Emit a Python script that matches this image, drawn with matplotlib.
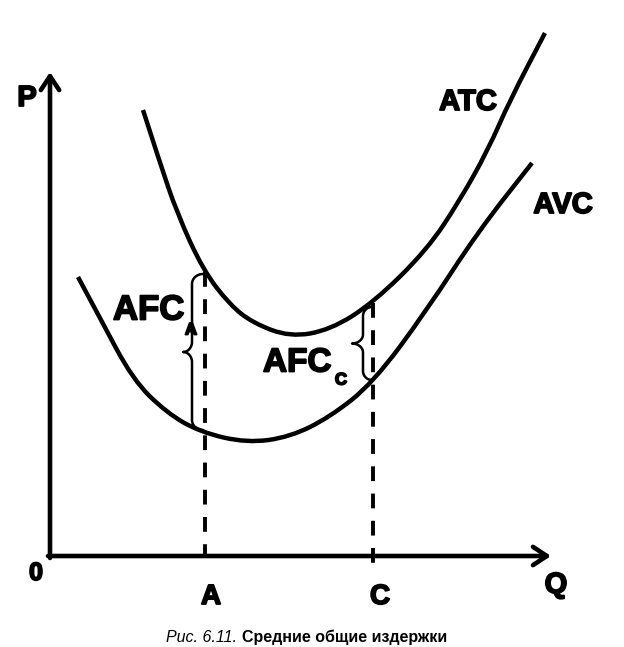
import matplotlib.pyplot as plt
import matplotlib.patheffects as pe
from matplotlib.path import Path
from matplotlib.patches import PathPatch
import numpy as np

# DATA ------------------------------------------------------
# quantity / price (origin at the axes corner)
atc_q = [93, 110, 127, 153, 180, 203, 240, 280, 323, 377, 410, 438, 460, 495]
atc_p = [446, 393, 343, 286, 251, 233, 219, 226, 253, 306, 356, 406, 456, 523]

avc_q = [28, 50, 83, 117, 150, 197, 240, 280, 323, 377, 427, 482]
avc_p = [279, 238, 176, 143, 124, 113, 119, 139, 173, 246, 323, 393]

q_a, q_c = 155, 323
atc_at = {"A": 284, "C": 253}
avc_at = {"A": 124, "C": 173}

FONT = "Liberation Sans"
HEAVY = [pe.withStroke(linewidth=1.3, foreground="black")]


def smooth_curve(ax, qs, ps, lw):
    # quadratic bezier through the midpoints, read points act as controls
    pts = list(zip(qs, ps))
    verts = [pts[0]]
    codes = [Path.MOVETO]
    for i in range(1, len(pts) - 1):
        mid = ((pts[i][0] + pts[i + 1][0]) / 2, (pts[i][1] + pts[i + 1][1]) / 2)
        verts += [pts[i], mid]
        codes += [Path.CURVE3, Path.CURVE3]
    verts.append(pts[-1])
    codes.append(Path.LINETO)
    ax.add_patch(PathPatch(Path(verts, codes), fill=False, lw=lw,
                           edgecolor="black", capstyle="butt"))


def brace(ax, q, p_lo, p_hi, w_end, w_mid, r):
    # curly brace opening to the right, cusp pointing left
    p_mid = (p_lo + p_hi) / 2
    t = np.linspace(0, np.pi / 2, 20)
    a1 = np.c_[q + w_end - w_end * np.sin(t), p_hi - r + r * np.cos(t)]
    a2 = np.c_[q - w_mid + w_mid * np.cos(t), p_mid + r - r * np.sin(t)]
    a3 = np.c_[q - w_mid + w_mid * np.sin(t), p_mid - r + r * np.cos(t)][::-1]
    a3 = np.c_[q - w_mid + w_mid * np.sin(t), p_mid - r * (1 - np.cos(t))]
    a4 = np.c_[q + w_end - w_end * np.cos(t), p_lo + r - r * np.sin(t)]
    pts = np.vstack([a1, a2, a3, a4])
    ax.plot(pts[:, 0], pts[:, 1], color="black", lw=1.8, solid_capstyle="round")


fig = plt.figure(figsize=(6.24, 6.47), dpi=100)
ax = fig.add_axes([0, 0, 1, 1])
ax.set_xlim(-50, 574)
ax.set_ylim(-91, 556)
ax.axis("off")

# axes with open arrow heads
arrow = dict(arrowstyle="->,head_length=0.5,head_width=0.33", lw=3.3, color="black",
             shrinkA=0, shrinkB=0, mutation_scale=20)
ax.annotate("", xy=(0, 484), xytext=(0, -2), arrowprops=arrow)
ax.annotate("", xy=(501, 0), xytext=(-2, 0), arrowprops=arrow)

# cost curves
smooth_curve(ax, atc_q, atc_p, 3.2)
smooth_curve(ax, avc_q, avc_p, 3.2)

# dashed drop lines
ax.plot([q_a, q_a], [atc_at["A"], 0], color="black", lw=2.8, dashes=(3.8, 3.2))
ax.plot([q_c, q_c], [atc_at["C"], -9], color="black", lw=2.8, dashes=(3.8, 3.2))

# braces
brace(ax, q_a - 13, avc_at["A"] + 2, atc_at["A"] - 2, 11, 9, 10)
brace(ax, q_c - 10, avc_at["C"] + 3, atc_at["C"] - 4, 9, 11, 9)

txt = dict(family=FONT, fontweight="bold", color="black", path_effects=HEAVY)
ax.text(-23, 458, "P", fontsize=21, ha="center", va="center", **txt)
ax.text(-14, -17, "0", fontsize=18, ha="center", va="center", **txt)
ax.text(q_a + 6, -41, "A", fontsize=20, ha="center", va="center", **txt)
ax.text(q_c + 7, -41, "C", fontsize=20, ha="center", va="center", **txt)
ax.text(506, -29, "Q", fontsize=21, ha="center", va="center", **txt)
ax.text(418, 454, "ATC", fontsize=21, ha="center", va="center", **txt)
ax.text(513, 351, "AVC", fontsize=21, ha="center", va="center", **txt)

ax.text(63, 246, "AFC", fontsize=25, ha="left", va="center", **txt)
ax.text(135, 226, "A", fontsize=12, ha="left", va="center", **txt)
ax.text(213, 193, "AFC", fontsize=24, ha="left", va="center", **txt)
ax.text(285, 176, "C", fontsize=12, ha="left", va="center", **txt)

ax.text(187, -81, "Рис. 6.11.", fontsize=11.5, style="italic", family=FONT,
        ha="right", va="center")
ax.text(192, -81, "Средние общие издержки", fontsize=11.5, fontweight="bold",
        family=FONT, ha="left", va="center")

fig.savefig("out.png", dpi=100)
